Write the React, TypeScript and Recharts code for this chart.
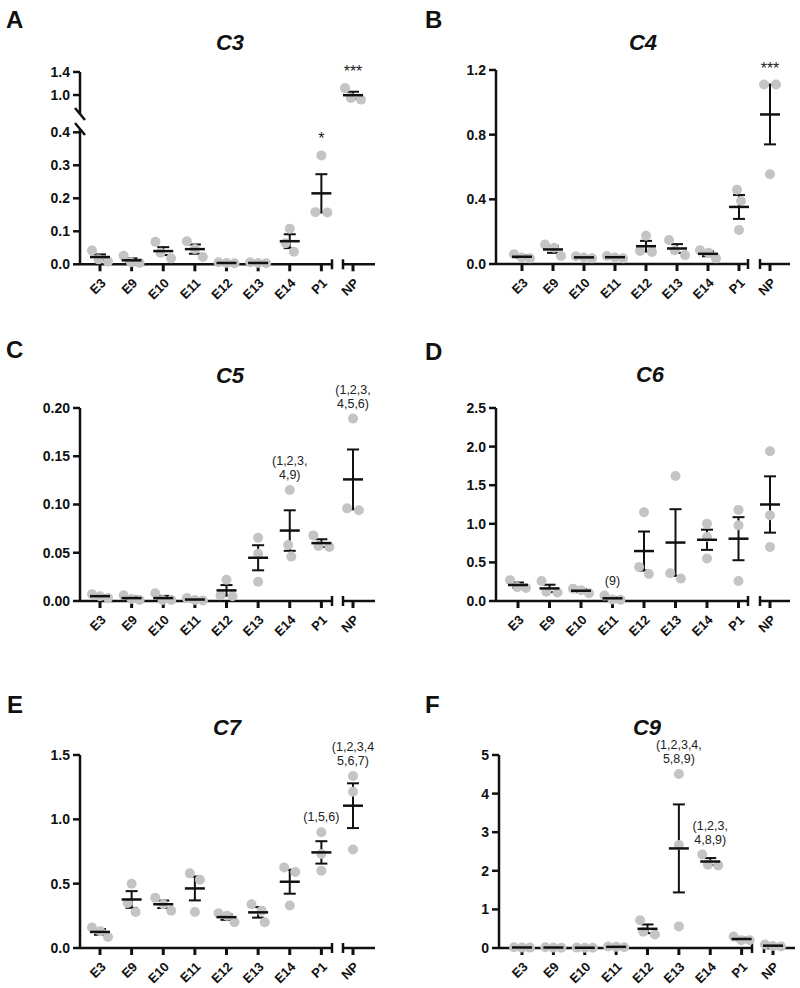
import React from 'react';
import { ScatterChart, Scatter, XAxis, YAxis, ErrorBar, ReferenceLine, ReferenceDot } from 'recharts';

const CATS = ['E3', 'E9', 'E10', 'E11', 'E12', 'E13', 'E14', 'P1', 'NP'];

// C3 (panel A) - three replicates per stage, mean and SEM
const C3_DOTS = [[0.042, 0.015, 0.008], [0.026, 0.006, 0.004], [0.068, 0.035, 0.018], [0.07, 0.046, 0.022], [0.006, 0.004, 0.003], [0.006, 0.004, 0.003], [0.108, 0.064, 0.038], [0.33, 0.158, 0.157], [1.12, 0.95, 0.92]];
const C3_MEAN = [0.022, 0.012, 0.04, 0.046, 0.004, 0.004, 0.07, 0.215, 0.997];
const C3_SEM = [0.008, 0.006, 0.012, 0.014, 0.001, 0.001, 0.021, 0.058, 0.06];
const C3_NOTES = [{ cat: 7, lines: ['*'] }, { cat: 8, lines: ['***'] }];
const C3_TICKS_LOW = [0, 0.1, 0.2, 0.3, 0.4];
const C3_TICKS_HIGH = [1.0, 1.4];

// C4 (panel B)
const C4_DOTS = [[0.06, 0.04, 0.035], [0.12, 0.1, 0.05], [0.048, 0.04, 0.035], [0.05, 0.04, 0.035], [0.175, 0.08, 0.075], [0.148, 0.085, 0.055], [0.085, 0.07, 0.035], [0.46, 0.39, 0.21], [1.11, 1.11, 0.555]];
const C4_MEAN = [0.045, 0.09, 0.041, 0.042, 0.11, 0.096, 0.063, 0.353, 0.925];
const C4_SEM = [0.008, 0.021, 0.004, 0.004, 0.033, 0.027, 0.015, 0.074, 0.185];
const C4_NOTES = [{ cat: 8, lines: ['***'] }];
const C4_TICKS = [0, 0.4, 0.8, 1.2];

// C5 (panel C)
const C5_DOTS = [[0.007, 0.005, 0.003], [0.006, 0.002, 0.001], [0.008, 0.001, 0.001], [0.003, 0.001, 0.0005], [0.022, 0.006, 0.005], [0.0655, 0.049, 0.02], [0.115, 0.058, 0.046], [0.068, 0.057, 0.056], [0.189, 0.096, 0.094]];
const C5_MEAN = [0.005, 0.003, 0.003, 0.0015, 0.011, 0.0448, 0.073, 0.06, 0.126];
const C5_SEM = [0.001, 0.0015, 0.0023, 0.0008, 0.0055, 0.013, 0.021, 0.004, 0.031];
const C5_NOTES = [{ cat: 6, lines: ['(1,2,3,', '4,9)'] }, { cat: 8, lines: ['(1,2,3,', '4,5,6)'] }];
const C5_TICKS = [0, 0.05, 0.1, 0.15, 0.2];

// C6 (panel D)
const C6_DOTS = [[0.27, 0.18, 0.17], [0.26, 0.12, 0.11], [0.16, 0.14, 0.1], [0.07, 0.02, 0.015], [1.15, 0.44, 0.35], [1.62, 0.36, 0.29], [1.0, 0.83, 0.55], [1.18, 0.98, 0.26], [1.94, 1.11, 0.7]];
const C6_MEAN = [0.207, 0.163, 0.133, 0.035, 0.647, 0.757, 0.793, 0.807, 1.25];
const C6_SEM = [0.032, 0.048, 0.018, 0.012, 0.253, 0.432, 0.131, 0.279, 0.365];
const C6_NOTES = [{ cat: 3, lines: ['(9)'] }];
const C6_TICKS = [0, 0.5, 1.0, 1.5, 2.0, 2.5];

// C7 (panel E)
const C7_DOTS = [[0.16, 0.13, 0.085], [0.5, 0.35, 0.28], [0.39, 0.34, 0.29], [0.58, 0.53, 0.28], [0.27, 0.25, 0.2], [0.34, 0.29, 0.2], [0.625, 0.59, 0.33], [0.9, 0.73, 0.6], [1.337, 1.215, 0.766]];
const C7_MEAN = [0.125, 0.377, 0.34, 0.463, 0.24, 0.277, 0.515, 0.743, 1.106];
const C7_SEM = [0.022, 0.065, 0.029, 0.093, 0.021, 0.041, 0.093, 0.087, 0.174];
const C7_NOTES = [{ cat: 7, lines: ['(1,5,6)'] }, { cat: 8, lines: ['(1,2,3,4', '5,6,7)'] }];
const C7_TICKS = [0, 0.5, 1.0, 1.5];

// C9 (panel F)
const C9_DOTS = [[0.02, 0.01, 0.01], [0.02, 0.01, 0.005], [0.01, 0.005, 0.005], [0.04, 0.03, 0.02], [0.72, 0.42, 0.35], [4.51, 2.67, 0.56], [2.42, 2.16, 2.14], [0.3, 0.2, 0.2], [0.09, 0.05, 0.04]];
const C9_MEAN = [0.013, 0.012, 0.007, 0.03, 0.497, 2.58, 2.24, 0.233, 0.06];
const C9_SEM = [0.003, 0.004, 0.002, 0.006, 0.113, 1.14, 0.09, 0.033, 0.015];
const C9_NOTES = [{ cat: 5, lines: ['(1,2,3,4,', '5,8,9)'] }, { cat: 6, lines: ['(1,2,3,', '4,8,9)'] }];
const C9_TICKS = [0, 1, 2, 3, 4, 5];

const FONT = '"Liberation Sans", Arial, Helvetica, sans-serif';
const INK = '#111';
const DOT_FILL = '#c4c4c4';
const DOT_GAP = 12;
const MAX_SPAN = 16;
const TOP_PAD = 50;

// Prism-like horizontal spreading of overlapping replicate dots
function spreadDots(vals: number[], cat: number, pxPerUnit: number, pxPerCat: number) {
  const sorted = [...vals].sort((a, b) => b - a);
  const out: { x: number; y: number }[] = [];
  let cluster = [sorted[0]];
  const flush = () => {
    const xs = [0];
    for (let k = 1; k < cluster.length; k++) {
      const dy = (cluster[k - 1] - cluster[k]) * pxPerUnit;
      xs.push(xs[k - 1] + Math.sqrt(Math.max(DOT_GAP * DOT_GAP - dy * dy, 0)));
    }
    const span = xs[xs.length - 1];
    const squeeze = span > MAX_SPAN ? MAX_SPAN / span : 1;
    const mid = span / 2;
    cluster.forEach((v, k) => out.push({ x: cat + ((xs[k] - mid) * squeeze) / pxPerCat, y: v }));
  };
  for (let k = 1; k < sorted.length; k++) {
    if ((sorted[k - 1] - sorted[k]) * pxPerUnit < DOT_GAP) cluster.push(sorted[k]);
    else {
      flush();
      cluster = [sorted[k]];
    }
  }
  flush();
  return out;
}

const Dot = (p: any) => <circle cx={p.cx} cy={p.cy} r={5} fill={DOT_FILL} />;
const MeanBar = (p: any) => (
  <line x1={p.cx - 10} x2={p.cx + 10} y1={p.cy} y2={p.cy} stroke={INK} strokeWidth={2.5} />
);
const Cap = (p: any) => (
  <line x1={p.cx} x2={p.cx} y1={p.cy - 5} y2={p.cy + 5} stroke={INK} strokeWidth={2.5} />
);
const Slash = (p: any) => (
  <line x1={p.cx - 5} x2={p.cx + 5} y1={p.cy - 6} y2={p.cy + 6} stroke={INK} strokeWidth={2.5} />
);

const noteShape = (lines: string[]) => (p: any) => {
  const star = lines[0].startsWith('*');
  const base = p.cy - 11;
  return (
    <g>
      {lines.map((t, j) => (
        <text key={j} x={p.cx} y={base - (lines.length - 1 - j) * 14} textAnchor="middle" fontFamily={FONT} fontSize={star ? 16 : 12.5} fill="#222">
          {t}
        </text>
      ))}
    </g>
  );
};

type Layout = { axisX: number; e3X: number; npX: number; endX: number; brk: [number, number] };

interface PlotProps {
  lay: Layout;
  yTop: number;
  yBottom: number;
  domain: [number, number];
  ticks: number[];
  digits: number;
  dots: number[][];
  means: number[];
  sems: number[];
  notes: { cat: number; lines: string[] }[];
  only?: number[];
  hideX?: boolean;
  slash?: boolean;
}

function Plot({ lay, yTop, yBottom, domain, ticks, digits, dots, means, sems, notes, only, hideX, slash }: PlotProps) {
  const cats = only ?? CATS.map((_, i) => i);
  const pxPerCat = (lay.npX - lay.e3X) / 8;
  const xDomain: [number, number] = [(lay.axisX - lay.e3X) / pxPerCat, (lay.endX - lay.e3X) / pxPerCat];
  const b1 = (lay.brk[0] - lay.e3X) / pxPerCat;
  const b2 = (lay.brk[1] - lay.e3X) / pxPerCat;
  const pxPerUnit = (yBottom - yTop) / (domain[1] - domain[0]);
  const width = lay.endX - lay.axisX + 60;
  const height = yBottom - yTop + TOP_PAD + 50;

  const dotData = cats.flatMap((i) => spreadDots(dots[i], i, pxPerUnit, pxPerCat));
  const meanData = cats.map((i) => ({ x: i, y: means[i], err: sems[i] }));
  const shownNotes = notes.filter((n) => cats.includes(n.cat));

  return (
    <div style={{ position: 'absolute', left: lay.axisX - 50, top: yTop - TOP_PAD }}>
      <ScatterChart width={width} height={height} margin={{ top: TOP_PAD, right: 10, bottom: hideX ? 50 : 0, left: 0 }} style={{ overflow: 'visible' }}>
        <XAxis
          type="number"
          dataKey="x"
          domain={xDomain}
          ticks={CATS.map((_, i) => i)}
          interval={0}
          hide={hideX}
          height={50}
          axisLine={false}
          tickLine={{ stroke: INK, strokeWidth: 3 }}
          tickSize={7}
          tickMargin={6}
          angle={-45}
          tickFormatter={(v: number) => CATS[v]}
          tick={{ fontFamily: FONT, fontWeight: 'bold', fontSize: 13, fill: INK, textAnchor: 'end' }}
        />
        <YAxis
          type="number"
          dataKey="y"
          domain={domain}
          ticks={ticks}
          interval={0}
          width={50}
          axisLine={{ stroke: INK, strokeWidth: 2.5 }}
          tickLine={{ stroke: INK, strokeWidth: 2.5 }}
          tickSize={7}
          tickMargin={3}
          tickFormatter={(v: number) => v.toFixed(digits)}
          tick={{ fontFamily: FONT, fontWeight: 'bold', fontSize: 14, fill: INK }}
        />
        {!hideX && (
          <ReferenceLine segment={[{ x: xDomain[0], y: domain[0] }, { x: b1, y: domain[0] }]} stroke={INK} strokeWidth={2.5} />
        )}
        {!hideX && (
          <ReferenceLine segment={[{ x: b2, y: domain[0] }, { x: xDomain[1], y: domain[0] }]} stroke={INK} strokeWidth={2.5} />
        )}
        {!hideX && <ReferenceDot x={b1} y={domain[0]} shape={Cap} />}
        {!hideX && <ReferenceDot x={b2} y={domain[0]} shape={Cap} />}
        {slash && <ReferenceDot x={xDomain[0]} y={hideX ? domain[0] : domain[1]} shape={Slash} />}
        <Scatter data={dotData} shape={Dot} isAnimationActive={false} />
        <Scatter data={meanData} shape={MeanBar} isAnimationActive={false}>
          <ErrorBar dataKey="err" direction="y" width={6} stroke={INK} strokeWidth={2} />
        </Scatter>
        {shownNotes.map((n) => (
          <ReferenceDot key={n.cat} x={n.cat} y={Math.max(...dots[n.cat])} shape={noteShape(n.lines)} />
        ))}
      </ScatterChart>
    </div>
  );
}

const LEFT: Layout = { axisX: 80, e3X: 100, npX: 353, endX: 375, brk: [332, 343] };
const RIGHT_B: Layout = { axisX: 496, e3X: 522, npX: 770, endX: 790, brk: [748, 760] };
const RIGHT_D: Layout = { axisX: 496, e3X: 518, npX: 770, endX: 790, brk: [748, 760] };
const RIGHT_F: Layout = { axisX: 499, e3X: 522, npX: 773, endX: 795, brk: [752, 764] };

const TITLES = [
  { t: 'C3', x: 230, y: 50 },
  { t: 'C4', x: 643, y: 50 },
  { t: 'C5', x: 230, y: 383 },
  { t: 'C6', x: 650, y: 382 },
  { t: 'C7', x: 227, y: 735 },
  { t: 'C9', x: 647, y: 735 },
];
const LETTERS = [
  { t: 'A', x: 6, y: 28 },
  { t: 'B', x: 425, y: 28 },
  { t: 'C', x: 6, y: 358 },
  { t: 'D', x: 425, y: 360 },
  { t: 'E', x: 7, y: 713 },
  { t: 'F', x: 425, y: 713 },
];

export default function App() {
  const lowerA = [0, 1, 2, 3, 4, 5, 6, 7];
  return (
    <div style={{ position: 'absolute', left: 0, top: 0, width: 800, height: 988, background: '#fff', overflow: 'hidden' }}>
      <svg width={800} height={988} style={{ position: 'absolute', left: 0, top: 0 }}>
        {TITLES.map((d) => (
          <text key={d.t} x={d.x} y={d.y} textAnchor="middle" fontFamily={FONT} fontWeight="bold" fontStyle="italic" fontSize={22} fill={INK}>
            {d.t}
          </text>
        ))}
        {LETTERS.map((d) => (
          <text key={d.t} x={d.x} y={d.y} fontFamily={FONT} fontWeight="bold" fontSize={24} fill={INK}>
            {d.t}
          </text>
        ))}
      </svg>

      <Plot lay={LEFT} yTop={72} yBottom={114} domain={[0.67, 1.4]} ticks={C3_TICKS_HIGH} digits={1} dots={C3_DOTS} means={C3_MEAN} sems={C3_SEM} notes={C3_NOTES} only={[8]} hideX slash />
      <Plot lay={LEFT} yTop={128.7} yBottom={264} domain={[0, 0.41]} ticks={C3_TICKS_LOW} digits={1} dots={C3_DOTS} means={C3_MEAN} sems={C3_SEM} notes={C3_NOTES} only={lowerA} slash />

      <Plot lay={RIGHT_B} yTop={70} yBottom={264} domain={[0, 1.2]} ticks={C4_TICKS} digits={1} dots={C4_DOTS} means={C4_MEAN} sems={C4_SEM} notes={C4_NOTES} />

      <Plot lay={LEFT} yTop={408} yBottom={601} domain={[0, 0.2]} ticks={C5_TICKS} digits={2} dots={C5_DOTS} means={C5_MEAN} sems={C5_SEM} notes={C5_NOTES} />

      <Plot lay={RIGHT_D} yTop={408} yBottom={601} domain={[0, 2.5]} ticks={C6_TICKS} digits={1} dots={C6_DOTS} means={C6_MEAN} sems={C6_SEM} notes={C6_NOTES} />

      <Plot lay={LEFT} yTop={755} yBottom={948} domain={[0, 1.5]} ticks={C7_TICKS} digits={1} dots={C7_DOTS} means={C7_MEAN} sems={C7_SEM} notes={C7_NOTES} />

      <Plot lay={RIGHT_F} yTop={755} yBottom={948} domain={[0, 5]} ticks={C9_TICKS} digits={0} dots={C9_DOTS} means={C9_MEAN} sems={C9_SEM} notes={C9_NOTES} />
    </div>
  );
}
